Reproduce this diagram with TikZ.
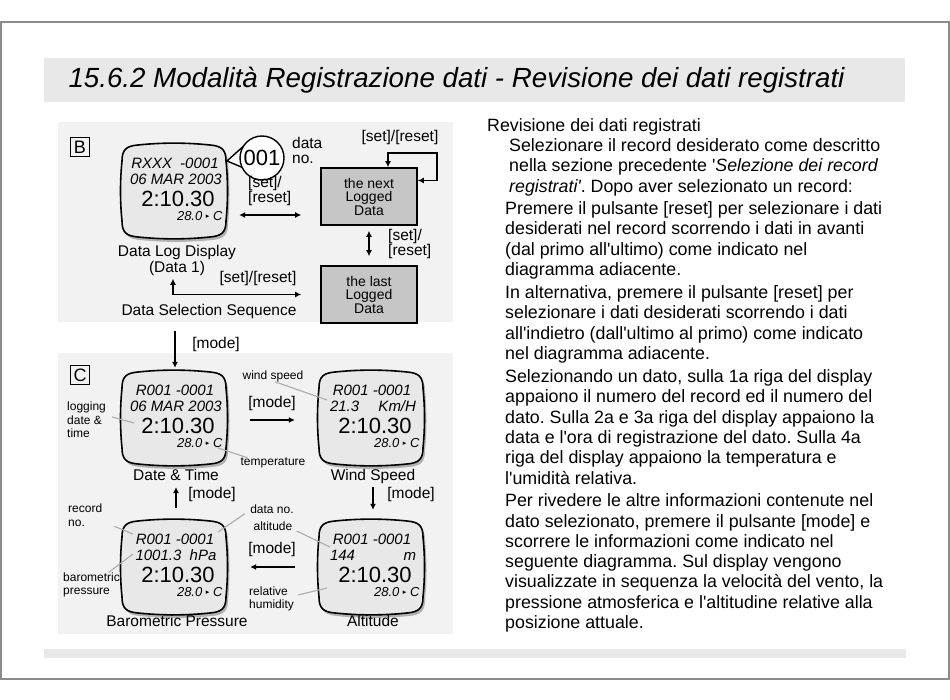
\documentclass[tikz,border=0pt]{standalone}
\usepackage{fontspec}
\setmainfont{Liberation Sans}
\newfontfamily\symfont{DejaVu Sans}
\usetikzlibrary{arrows.meta,positioning}
\frenchspacing

% Umriss der LCD-Anzeige (Mitte im Ursprung)
\newcommand\lcdform{(-36,-46) .. controls (-12,-48.5) and (12,-48.5) .. (36,-46)
  .. controls (48,-45) and (52,-41) .. (52,-30) .. controls (54,-10) and (54,10) .. (52,30)
  .. controls (52,41) and (48,45) .. (36,46) .. controls (12,48.5) and (-12,48.5) .. (-36,46)
  .. controls (-48,45) and (-52,41) .. (-52,30) .. controls (-54,10) and (-54,-10) .. (-52,-30)
  .. controls (-52,-41) and (-48,-45) .. (-36,-46) -- cycle}
\newcommand\fsz[1]{\fontsize{#1}{#1}\selectfont}
\newcommand\ap{\textquotesingle}

\begin{document}
\begin{tikzpicture}[x=1pt, y=-1pt, font=\fsz{15.5},
  arr/.style={line width=1.7pt, -{Latex[length=6pt,width=6pt]}},
  dbl/.style={line width=1.7pt, {Latex[length=6pt,width=6pt]}-{Latex[length=6pt,width=6pt]}},
  lead/.style={gray!65, line width=1.1pt},
  note/.style={font=\fontsize{12}{13.5}\selectfont, align=left, inner sep=0pt},
  tag/.style={draw, line width=0.9pt, inner sep=0pt, minimum size=19pt, font=\fsz{18}},
  logbox/.style={draw, line width=1.6pt, fill=gray!45, minimum width=96pt, minimum height=57pt, align=center, inner sep=0pt, font=\fontsize{14}{13.5}\selectfont},
  txt/.style={anchor=north west, align=left, inner sep=0pt, font=\fontsize{17.8}{20.3}\selectfont},
  pics/lcd/.style 2 args={code={
    \fill[gray!60, shift={(2,3)}] \lcdform;
    \filldraw[fill=gray!18, line width=1.6pt] \lcdform;
    \node[minimum width=104pt, minimum height=94pt, inner sep=0pt] (-frame) at (0,0) {};
    \node[font=\itshape\fsz{15}] at (1,-28) {#1};
    \node[font=\itshape\fsz{15}, inner sep=0pt] at (2,-12) {\makebox[86pt]{#2}};
    \node[font=\fsz{22}] at (4,8) {2:10.30};
    \node[anchor=east, font=\itshape\fsz{13}] at (52,25) {28.0 \raisebox{1.5pt}{\symfont\fsz{7}▸} C};
  }}]
\useasboundingbox (0,0) rectangle (950,700);
% Rahmen, Titel
\draw[gray!90, line width=1.2pt] (1,22) rectangle (949,679);
\fill[gray!18] (44,58) rectangle (905,102);
\node[anchor=west, font=\itshape\fsz{27.7}] (titel) at (65,80) {15.6.2 Modalità Registrazione dati - Revisione dei dati registrati};
\fill[gray!18] (44,649) rectangle (906,658);

% Feld B: Datenauswahl
\fill[gray!10] (58,122) rectangle (453,322);
\node[tag] (tb) at (80,147) {B};
\pic (d1) at (174,191) {lcd={RXXX\hspace{8pt}-0001}{06 MAR 2003}};
\coordinate (spitze) at (227,161); \coordinate (blase) at (262,158);
\filldraw[fill=white, line width=1.4pt] (spitze) -- ([shift={(148:22pt)}]blase) -- ([shift={(205:22pt)}]blase) -- cycle;
\node[circle, draw, fill=white, line width=1.4pt, minimum size=44pt, inner sep=0pt, font=\fsz{22}] (dno) at (blase) {001};
\node[anchor=west, align=left, font=\fontsize{15.5}{15}\selectfont, inner sep=0pt] (dlbl) at (292,150) {data\\no.};
\node[logbox] (nxt) at (369,196.5) {the next\\Logged\\Data};
\node[logbox] (lst) at (369,294.5) {the last\\Logged\\Data};
\coordinate (schleife) at (437,153);
\draw[dbl] ([xshift=19pt]nxt.north) |- (schleife) |- ([yshift=16pt]nxt.east);
\node (sr1) at (400,137) {[set]/[reset]};
\node[anchor=west, align=left, inner sep=0pt, font=\fontsize{15.5}{15}\selectfont] (sr2) at (248,191) {[set]/\\{}[reset]};
\draw[dbl, shorten <=13pt, shorten >=19pt] ([yshift=-24pt]d1-frame.east) -- ([yshift=-18.5pt]nxt.west);
\node[anchor=west, align=left, inner sep=0pt, font=\fontsize{15.5}{15}\selectfont] (sr3) at (388,244) {[set]/\\{}[reset]};
\draw[dbl, shorten <=5pt, shorten >=9pt] (nxt.south) -- (lst.north);
\node[align=center, font=\fontsize{15.5}{16}\selectfont] (d1lbl) at (177,260) {Data Log Display\\(Data 1)};
\node (sr4) at (258,278) {[set]/[reset]};
\draw[dbl, shorten >=19pt] ([xshift=-4pt]d1lbl.south) |- (lst.west);
\node (folge) at (209,311) {Data Selection Sequence};

% Übergang
\coordinate (modeein) at (175,331);
\node (m0) at (216,344) {[mode]};

% Feld C: Anzeigen
\fill[gray!10] (58,353) rectangle (453,634);
\node[tag] (tc) at (80,375) {C};
\pic (dt) at (174,418) {lcd={R001 -0001}{06 MAR 2003}};
\pic (ws) at (371,418) {lcd={R001 -0001}{21.3\hfill Km/H}};
\pic (bp) at (174,567) {lcd={R001 -0001}{1001.3\ \ hPa}};
\pic (al) at (371,567) {lcd={R001 -0001}{144\hfill m}};
\draw[arr, shorten >=3pt] (modeein) -- (modeein |- dt-frame.north);
\node[anchor=base] (dtlbl) at (176,480.5) {Date \& Time};
\node[anchor=base] (wslbl) at (373,480.5) {Wind Speed};
\node[anchor=base] (bplbl) at (177,626.5) {Barometric Pressure};
\node[anchor=base] (allbl) at (373,626.5) {Altitude};
\draw[arr, shorten <=24pt, shorten >=24pt] ([yshift=-2pt]dt-frame.east) -- ([yshift=-2pt]ws-frame.west);
\node (m1) at (272,403) {[mode]};
\draw[arr, shorten >=10pt] (wslbl.south) -- (wslbl.south |- al-frame.north);
\node (m2) at (411,494) {[mode]};
\draw[arr, shorten <=24pt, shorten >=24pt] (al-frame.west) -- (bp-frame.east);
\node (m3) at (272,549) {[mode]};
\draw[arr, shorten <=12pt, shorten >=3pt] (bp-frame.north -| dtlbl.south) -- (dtlbl.south);
\node (m4) at (212,494) {[mode]};

% Hinweise
\node[note, anchor=west] (nlog) at (67,420) {logging\\date \&\\time};
\draw[lead] ([shift={(6pt,3pt)}]nlog.east) -- (134,423);
\node[note] (ntemp) at (273,463) {temperature};
\draw[lead] (218,448) -- ([xshift=7pt]ntemp.north west);
\node[note] (nwind) at (273,376) {wind speed};
\draw[lead] ([xshift=2pt]nwind.south) -- (327,400);
\node[note, anchor=west] (nrec) at (68,515) {record\\no.};
\draw[lead] ([xshift=12pt]nrec.south east) -- (133,534);
\node[note] (ndno) at (272,509) {data no.};
\draw[lead] ([xshift=-5pt]ndno.south west) -- (218,532);
\node[note, anchor=west] (nbar) at (63,585) {barometric\\pressure};
\draw[lead] ([xshift=17pt]nbar.north) -- (133,554);
\node[note] (nalt) at (273,526) {altitude};
\draw[lead] ([shift={(4pt,-5pt)}]nalt.east) -- (330,547);
\node[note, anchor=west] (nhum) at (249,599) {relative\\humidity};
\draw[lead] ([shift={(4pt,4pt)}]nhum.east) -- (327,588);

% Textspalte
\node[txt] (kopf) at (487,118.6) {Revisione dei dati registrati};
\node[txt] (abs1) at (509,138.6) {Selezionare il record desiderato come descritto\\nella sezione precedente \ap\textit{Selezione dei record}\\\textit{registrati\ap}. Dopo aver selezionato un record:};
\node[txt] (abs2) at (505,201.6) {Premere il pulsante [reset] per selezionare i dati\\desiderati nel record scorrendo i dati in avanti\\(dal primo all\ap ultimo) come indicato nel\\diagramma adiacente.};
\node[txt] (abs3) at (505,285.6) {In alternativa, premere il pulsante [reset] per\\selezionare i dati desiderati scorrendo i dati\\all\ap indietro (dall\ap ultimo al primo) come indicato\\nel diagramma adiacente.};
\node[txt] (abs4) at (505,369.6) {Selezionando un dato, sulla 1a riga del display\\appaiono il numero del record ed il numero del\\dato. Sulla 2a e 3a riga del display appaiono la\\data e l\ap ora di registrazione del dato. Sulla 4a\\riga del display appaiono la temperatura e\\l\ap umidità relativa.};
\node[txt] (abs5) at (505,493.6) {Per rivedere le altre informazioni contenute nel\\dato selezionato, premere il pulsante [mode] e\\scorrere le informazioni come indicato nel\\seguente diagramma. Sul display vengono\\visualizzate in sequenza la velocità del vento, la\\pressione atmosferica e l\ap altitudine relative alla\\posizione attuale.};
\end{tikzpicture}
\end{document}
